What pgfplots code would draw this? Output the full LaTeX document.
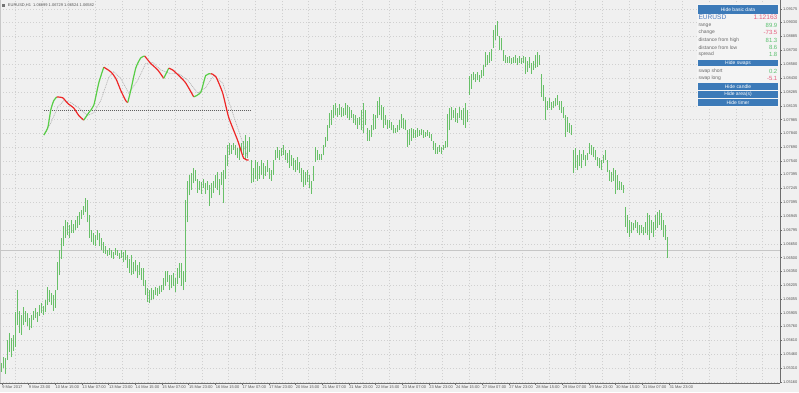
\documentclass[border=0pt]{standalone}
\usepackage{fontspec}
\setmainfont{Liberation Sans}
\usepackage{pgfplots}
\usepackage{pgfplotstable}
\pgfplotsset{compat=1.18}
\definecolor{bgc}{RGB}{240,240,240}
\definecolor{panelc}{RGB}{244,244,244}
\definecolor{pricegreen}{RGB}{104,192,104}
\definecolor{indg}{RGB}{88,205,70}
\definecolor{indr}{RGB}{238,38,38}
\definecolor{sigc}{RGB}{175,175,175}
\definecolor{gridc}{RGB}{208,208,208}
\definecolor{axc}{RGB}{110,110,110}
\definecolor{labc}{RGB}{85,85,85}
\definecolor{btnc}{RGB}{60,122,184}
\definecolor{symc}{RGB}{72,122,192}
\definecolor{valg}{RGB}{92,192,112}
\definecolor{valr}{RGB}{228,92,124}
\definecolor{rowc}{RGB}{105,105,105}
% hourly bars: x position, low, range (high - low)
\pgfplotstableread{
x lo d
1 1.0527 0.0010
3 1.0531 0.0012
5 1.0525 0.0017
7 1.0540 0.0021
9 1.0548 0.0021
11 1.0543 0.0020
13 1.0550 0.0017
15 1.0554 0.0037
17 1.0577 0.0038
19 1.0569 0.0024
21 1.0567 0.0021
23 1.0577 0.0020
25 1.0581 0.0012
27 1.0576 0.0014
29 1.0572 0.0013
31 1.0574 0.0014
33 1.0583 0.0010
35 1.0585 0.0011
37 1.0581 0.0010
39 1.0587 0.0012
41 1.0590 0.0011
43 1.0588 0.0010
45 1.0591 0.0013
47 1.0599 0.0019
49 1.0602 0.0013
51 1.0599 0.0013
53 1.0593 0.0017
55 1.0596 0.0019
57 1.0615 0.0030
59 1.0631 0.0027
61 1.0649 0.0022
63 1.0663 0.0021
65 1.0671 0.0019
67 1.0674 0.0014
69 1.0671 0.0014
71 1.0677 0.0013
73 1.0677 0.0009
75 1.0680 0.0010
77 1.0682 0.0013
79 1.0685 0.0014
81 1.0692 0.0009
83 1.0696 0.0010
85 1.0699 0.0015
87 1.0688 0.0024
89 1.0671 0.0025
91 1.0667 0.0013
93 1.0664 0.0013
95 1.0663 0.0011
97 1.0669 0.0011
99 1.0662 0.0014
101 1.0658 0.0013
103 1.0655 0.0012
105 1.0654 0.0008
107 1.0652 0.0006
109 1.0653 0.0007
111 1.0650 0.0008
113 1.0649 0.0007
115 1.0653 0.0007
117 1.0652 0.0006
119 1.0649 0.0006
121 1.0650 0.0008
123 1.0645 0.0011
125 1.0647 0.0011
127 1.0639 0.0014
129 1.0634 0.0015
131 1.0631 0.0022
133 1.0632 0.0013
135 1.0636 0.0011
137 1.0628 0.0014
139 1.0631 0.0014
141 1.0626 0.0013
143 1.0620 0.0019
145 1.0610 0.0016
147 1.0602 0.0015
149 1.0601 0.0014
151 1.0604 0.0013
153 1.0606 0.0009
155 1.0610 0.0008
157 1.0609 0.0008
159 1.0611 0.0009
161 1.0613 0.0008
163 1.0615 0.0013
165 1.0620 0.0016
167 1.0624 0.0012
169 1.0615 0.0016
171 1.0617 0.0014
173 1.0620 0.0013
175 1.0613 0.0015
177 1.0622 0.0017
179 1.0628 0.0016
}\barsA
\pgfplotstableread{
x lo d
181 1.0620 0.0024
183 1.0615 0.0021
185 1.0624 0.0088
187 1.0688 0.0045
189 1.0717 0.0022
191 1.0723 0.0018
193 1.0730 0.0016
195 1.0733 0.0011
197 1.0720 0.0015
199 1.0723 0.0010
201 1.0719 0.0012
203 1.0725 0.0010
205 1.0719 0.0011
207 1.0723 0.0010
209 1.0706 0.0022
211 1.0714 0.0016
213 1.0720 0.0013
215 1.0725 0.0014
217 1.0723 0.0019
219 1.0717 0.0018
221 1.0728 0.0014
223 1.0709 0.0035
225 1.0735 0.0025
227 1.0749 0.0022
229 1.0760 0.0013
231 1.0762 0.0009
233 1.0766 0.0007
235 1.0760 0.0011
237 1.0757 0.0011
239 1.0755 0.0016
241 1.0764 0.0009
243 1.0760 0.0016
245 1.0755 0.0027
247 1.0757 0.0019
249 1.0764 0.0016
251 1.0730 0.0025
253 1.0731 0.0016
255 1.0735 0.0020
257 1.0733 0.0020
259 1.0735 0.0014
261 1.0739 0.0016
263 1.0735 0.0017
265 1.0738 0.0011
267 1.0742 0.0013
269 1.0735 0.0011
271 1.0733 0.0011
273 1.0739 0.0016
275 1.0755 0.0011
277 1.0757 0.0012
279 1.0755 0.0011
281 1.0759 0.0009
283 1.0760 0.0011
285 1.0755 0.0011
287 1.0752 0.0011
289 1.0747 0.0019
291 1.0749 0.0011
293 1.0744 0.0013
295 1.0742 0.0013
297 1.0744 0.0014
299 1.0741 0.0012
301 1.0731 0.0015
303 1.0726 0.0018
305 1.0728 0.0014
307 1.0731 0.0013
309 1.0725 0.0014
311 1.0719 0.0014
313 1.0733 0.0016
315 1.0753 0.0016
317 1.0755 0.0011
319 1.0755 0.0007
321 1.0755 0.0007
323 1.0760 0.0011
325 1.0769 0.0011
327 1.0776 0.0017
329 1.0790 0.0016
331 1.0793 0.0016
333 1.0800 0.0014
335 1.0803 0.0013
337 1.0801 0.0010
339 1.0804 0.0011
341 1.0801 0.0011
343 1.0802 0.0009
345 1.0803 0.0013
347 1.0800 0.0014
349 1.0798 0.0014
351 1.0800 0.0009
353 1.0795 0.0010
355 1.0793 0.0010
357 1.0789 0.0011
359 1.0793 0.0008
}\barsB
\pgfplotstableread{
x lo d
361 1.0787 0.0022
363 1.0784 0.0032
365 1.0793 0.0016
367 1.0776 0.0014
369 1.0776 0.0011
371 1.0780 0.0013
373 1.0787 0.0018
375 1.0789 0.0014
377 1.0800 0.0019
379 1.0803 0.0020
381 1.0798 0.0016
383 1.0790 0.0022
385 1.0793 0.0010
387 1.0789 0.0009
389 1.0790 0.0008
391 1.0787 0.0009
393 1.0784 0.0009
395 1.0784 0.0006
397 1.0785 0.0008
399 1.0787 0.0011
401 1.0790 0.0015
403 1.0789 0.0011
405 1.0787 0.0011
407 1.0769 0.0018
409 1.0771 0.0018
411 1.0776 0.0014
413 1.0779 0.0010
415 1.0779 0.0008
417 1.0780 0.0010
419 1.0781 0.0006
421 1.0782 0.0007
423 1.0779 0.0008
425 1.0780 0.0005
427 1.0781 0.0006
429 1.0779 0.0006
431 1.0776 0.0007
433 1.0766 0.0010
435 1.0762 0.0011
437 1.0762 0.0007
439 1.0764 0.0007
441 1.0762 0.0007
443 1.0766 0.0005
445 1.0768 0.0008
447 1.0769 0.0036
449 1.0787 0.0024
451 1.0798 0.0014
453 1.0800 0.0009
455 1.0796 0.0015
457 1.0795 0.0011
459 1.0800 0.0012
461 1.0798 0.0011
463 1.0793 0.0018
465 1.0790 0.0026
467 1.0796 0.0013
469 1.0825 0.0021
471 1.0832 0.0016
473 1.0841 0.0009
475 1.0839 0.0009
477 1.0841 0.0009
479 1.0839 0.0008
481 1.0843 0.0009
483 1.0846 0.0011
485 1.0855 0.0016
487 1.0857 0.0011
489 1.0860 0.0011
491 1.0862 0.0013
493 1.0876 0.0019
495 1.0884 0.0016
497 1.0889 0.0016
499 1.0873 0.0016
501 1.0873 0.0013
503 1.0862 0.0011
505 1.0860 0.0008
507 1.0859 0.0007
509 1.0860 0.0007
511 1.0858 0.0007
513 1.0859 0.0007
515 1.0860 0.0008
517 1.0857 0.0008
519 1.0860 0.0007
521 1.0858 0.0007
523 1.0859 0.0008
525 1.0848 0.0018
527 1.0850 0.0012
529 1.0854 0.0012
531 1.0848 0.0012
533 1.0852 0.0010
535 1.0854 0.0014
537 1.0855 0.0016
539 1.0857 0.0011
}\barsC
\pgfplotstableread{
x lo d
541 1.0823 0.0025
543 1.0819 0.0017
545 1.0798 0.0025
547 1.0809 0.0010
549 1.0811 0.0011
551 1.0809 0.0008
553 1.0811 0.0008
555 1.0813 0.0009
557 1.0814 0.0011
559 1.0809 0.0010
561 1.0806 0.0013
563 1.0800 0.0012
565 1.0780 0.0023
567 1.0785 0.0016
569 1.0784 0.0011
571 1.0782 0.0011
573 1.0741 0.0025
575 1.0746 0.0022
577 1.0744 0.0016
579 1.0749 0.0017
581 1.0746 0.0016
583 1.0755 0.0011
585 1.0749 0.0011
587 1.0755 0.0008
589 1.0762 0.0011
591 1.0760 0.0011
593 1.0758 0.0011
595 1.0755 0.0011
597 1.0749 0.0009
599 1.0746 0.0011
601 1.0744 0.0011
603 1.0752 0.0008
605 1.0755 0.0011
607 1.0742 0.0013
609 1.0733 0.0011
611 1.0731 0.0011
613 1.0733 0.0014
615 1.0719 0.0025
617 1.0723 0.0016
619 1.0723 0.0010
621 1.0723 0.0008
623 1.0720 0.0008
625 1.0683 0.0021
627 1.0677 0.0019
629 1.0672 0.0018
631 1.0677 0.0011
633 1.0680 0.0007
635 1.0682 0.0008
637 1.0677 0.0011
639 1.0674 0.0011
641 1.0676 0.0009
643 1.0674 0.0009
645 1.0676 0.0012
647 1.0674 0.0024
649 1.0669 0.0027
651 1.0677 0.0013
653 1.0672 0.0016
655 1.0680 0.0016
657 1.0682 0.0017
659 1.0685 0.0016
661 1.0680 0.0018
663 1.0672 0.0018
665 1.0669 0.0016
667 1.0650 0.0022
}\barsD
\begin{document}
\begin{tikzpicture}
\begin{scope}[x=1bp,y=1bp]
\fill[bgc] (0,-9) rectangle (799,383);
\path[use as bounding box] (0,-9) rectangle (799,383);
\end{scope}
\begin{axis}[
  at={(0,0)}, anchor=south west,
  width=780bp, height=383bp, scale only axis,
  xmin=-0.5, xmax=779.5, ymin=1.05149, ymax=1.0927,
  axis x line*=bottom, axis y line*=right,
  axis line style={axc, line width=0.6bp},
  tick style={axc, line width=0.4bp},
  tick align=outside, major tick length=2bp,
  ymajorgrids=true, xmajorgrids=false,
  major grid style={gridc, line width=0.4bp, dash pattern=on 1bp off 2bp},
  ytick={1.05160,1.05310,1.05460,1.05610,1.05760,1.05905,1.06055,1.06205,1.06350,1.06500,1.06650,1.06795,1.06945,1.07095,1.07245,1.07395,1.07540,1.07690,1.07840,1.07985,1.08135,1.08285,1.08430,1.08580,1.08730,1.08885,1.09030,1.09175},
  yticklabel style={font=\fontsize{4}{4.5}\selectfont, text=labc, anchor=west, inner sep=0.8bp, /pgf/number format/fixed, /pgf/number format/fixed zerofill, /pgf/number format/precision=5, /pgf/number format/assume math mode=true},
  xtick={1,27.7,54.4,81.1,107.8,134.5,161.2,187.9,214.6,241.3,268,294.7,321.4,348.1,374.8,401.5,428.2,454.9,481.6,508.3,535,561.7,588.4,615.1,641.8,668.5},
  xticklabels={9 Mar 2017,9 Mar 23:00,10 Mar 15:00,13 Mar 07:00,13 Mar 23:00,14 Mar 15:00,15 Mar 07:00,15 Mar 23:00,16 Mar 15:00,17 Mar 07:00,17 Mar 23:00,20 Mar 15:00,21 Mar 07:00,21 Mar 23:00,22 Mar 15:00,23 Mar 07:00,23 Mar 23:00,24 Mar 15:00,27 Mar 07:00,27 Mar 23:00,28 Mar 15:00,29 Mar 07:00,29 Mar 23:00,30 Mar 15:00,31 Mar 07:00,31 Mar 23:00},
  xticklabel style={font=\fontsize{4}{4.5}\selectfont, text=labc, anchor=north west, inner sep=0.8bp, xshift=-0.5bp},
  extra x ticks={14.3,41,67.7,94.4,121.1,147.8,174.5,201.2,227.9,254.6,281.3,308,334.7,361.4,388.1,414.8,441.5,468.2,494.9,521.6,548.3,575,601.7,628.4,655.1,681.8,708.5,735.2,761.9},
  extra x tick labels={},
  extra x tick style={xmajorgrids=true, major tick length=0pt},
  clip=true,
]
% current price line
\addplot[draw=gray!45, line width=0.5bp] coordinates {(-0.5,1.06582) (779.5,1.06582)};
% price bars: low + range as one-sided error bar, in four parts
\addplot[draw=none, mark=none, forget plot, error bars/.cd, y dir=plus, y explicit, error mark=none, error bar style={draw=pricegreen, line width=1bp, solid, line cap=butt}] table[x=x, y=lo, y error=d] {\barsA};
\addplot[draw=none, mark=none, forget plot, error bars/.cd, y dir=plus, y explicit, error mark=none, error bar style={draw=pricegreen, line width=1bp, solid, line cap=butt}] table[x=x, y=lo, y error=d] {\barsB};
\addplot[draw=none, mark=none, forget plot, error bars/.cd, y dir=plus, y explicit, error mark=none, error bar style={draw=pricegreen, line width=1bp, solid, line cap=butt}] table[x=x, y=lo, y error=d] {\barsC};
\addplot[draw=none, mark=none, forget plot, error bars/.cd, y dir=plus, y explicit, error mark=none, error bar style={draw=pricegreen, line width=1bp, solid, line cap=butt}] table[x=x, y=lo, y error=d] {\barsD};
% level line
\addplot[draw=gray!75!black, line width=0.5bp, dash pattern=on 1bp off 1bp] coordinates {(43,1.0809) (250,1.0809)};
% signal line
\addplot[draw=sigc, line width=0.6bp, dash pattern=on 1bp off 0.8bp] coordinates {
(43,1.0782)(50,1.0795)(57,1.0812)(63,1.0819)(70,1.0817)(78,1.0811)(87,1.0803)(93,1.0806)(100,1.0819)(108,1.0844)(113,1.0850)(120,1.0843)(128,1.0827)(137,1.0841)(145,1.0859)(152,1.0860)(160,1.0852)(170,1.0848)(178,1.0848)(187,1.0841)(197,1.0827)(205,1.0833)(213,1.0846)(222,1.0838)(230,1.0812)(240,1.0780)(247,1.0758)};
% main indicator line
\addplot[draw=indg, line width=1.2bp, smooth, tension=0.4] coordinates {(43,1.0782)(47,1.0790)(50,1.0809)(53,1.0819)(56,1.0823)};
\addplot[draw=indr, line width=1.2bp, smooth, tension=0.4] coordinates {(56,1.0823)(62,1.0822)(67,1.0816)(73,1.0811)(78,1.0803)(83,1.0798)};
\addplot[draw=indg, line width=1.2bp, smooth, tension=0.4] coordinates {(83,1.0798)(88,1.0806)(93,1.0814)(98,1.0838)(103,1.0855)};
\addplot[draw=indr, line width=1.2bp, smooth, tension=0.4] coordinates {(103,1.0855)(110,1.0850)(115,1.0843)(120,1.0830)(125,1.0819)(127,1.0817)};
\addplot[draw=indg, line width=1.2bp, smooth, tension=0.4] coordinates {(127,1.0817)(130,1.0830)(135,1.0854)(140,1.0865)(144,1.0867)};
\addplot[draw=indr, line width=1.2bp, smooth, tension=0.4] coordinates {(144,1.0867)(150,1.0859)(157,1.0852)(163,1.0843)};
\addplot[draw=indg, line width=1.2bp] coordinates {(163,1.0843)(168,1.0854)};
\addplot[draw=indr, line width=1.2bp, smooth, tension=0.4] coordinates {(168,1.0854)(172,1.0852)(178,1.0846)(185,1.0838)(193,1.0823)};
\addplot[draw=indg, line width=1.2bp, smooth, tension=0.4] coordinates {(193,1.0823)(200,1.0828)(205,1.0846)(210,1.0848)};
\addplot[draw=indr, line width=1.2bp, smooth, tension=0.4] coordinates {(210,1.0848)(215,1.0845)(222,1.0827)(228,1.0801)(237,1.0776)(243,1.0757)(248,1.0755)};
% current price box
\node[anchor=west, fill=black!68, text=white, inner sep=0.7bp, font=\fontsize{4}{4.5}\selectfont] at (axis cs:779.5,1.06582) {1.06582};
\end{axis}
\begin{scope}[x=1bp,y=1bp]
\fill[black!22] (0,0) rectangle (1.2,383);
% title
\fill[black!55] (1.5,376.5) rectangle (4.5,379.5);
\node[anchor=west, inner sep=0, text=labc, font=\fontsize{4}{4.5}\selectfont] at (7.5,378.3) {EURUSD,H1\ \ 1.06699 1.06729 1.06524 1.06582};
% panel
\fill[panelc] (697,276) rectangle (779.5,379.5);
\fill[btnc] (698,369.7) rectangle (778,378);
\node[text=white, inner sep=0, font=\fontsize{5}{6}\selectfont] at (738,373.8) {Hide basic data};
\node[anchor=west, inner sep=0, text=symc, font=\fontsize{6.6}{7}\selectfont] at (698.3,366.3) {EURUSD};
\node[anchor=east, inner sep=0, text=valr, font=\fontsize{6.6}{7}\selectfont] at (777.5,366.3) {1.12163};
\node[anchor=west, inner sep=0, text=rowc, font=\fontsize{5}{6}\selectfont] at (698.3,358) {range};
\node[anchor=east, inner sep=0, text=valg, font=\fontsize{6}{7}\selectfont] at (777.5,358) {89.9};
\node[anchor=west, inner sep=0, text=rowc, font=\fontsize{5}{6}\selectfont] at (698.3,350.7) {change};
\node[anchor=east, inner sep=0, text=valr, font=\fontsize{6}{7}\selectfont] at (777.5,350.7) {-73.5};
\node[anchor=west, inner sep=0, text=rowc, font=\fontsize{5}{6}\selectfont] at (698.3,343) {distance from high};
\node[anchor=east, inner sep=0, text=valg, font=\fontsize{6}{7}\selectfont] at (777.5,343) {81.3};
\node[anchor=west, inner sep=0, text=rowc, font=\fontsize{5}{6}\selectfont] at (698.3,335.7) {distance from low};
\node[anchor=east, inner sep=0, text=valg, font=\fontsize{6}{7}\selectfont] at (777.5,335.7) {8.6};
\node[anchor=west, inner sep=0, text=rowc, font=\fontsize{5}{6}\selectfont] at (698.3,328.7) {spread};
\node[anchor=east, inner sep=0, text=valg, font=\fontsize{6}{7}\selectfont] at (777.5,328.7) {1.8};
\fill[btnc] (698,317.3) rectangle (778,323.7);
\node[text=white, inner sep=0, font=\fontsize{5}{6}\selectfont] at (738,320.5) {Hide swaps};
\node[anchor=west, inner sep=0, text=rowc, font=\fontsize{5}{6}\selectfont] at (698.3,312) {swap short};
\node[anchor=east, inner sep=0, text=valg, font=\fontsize{6}{7}\selectfont] at (777.5,312) {0.2};
\node[anchor=west, inner sep=0, text=rowc, font=\fontsize{5}{6}\selectfont] at (698.3,304.7) {swap long};
\node[anchor=east, inner sep=0, text=valr, font=\fontsize{6}{7}\selectfont] at (777.5,304.7) {-5.1};
\fill[btnc] (698,293.7) rectangle (778,300.3);
\node[text=white, inner sep=0, font=\fontsize{5}{6}\selectfont] at (738,297) {Hide candle};
\fill[btnc] (698,285.7) rectangle (778,292.3);
\node[text=white, inner sep=0, font=\fontsize{5}{6}\selectfont] at (738,289) {Hide area(s)};
\fill[btnc] (698,277) rectangle (778,284.3);
\node[text=white, inner sep=0, font=\fontsize{5}{6}\selectfont] at (738,280.7) {Hide timer};
\end{scope}
\end{tikzpicture}
\end{document}
